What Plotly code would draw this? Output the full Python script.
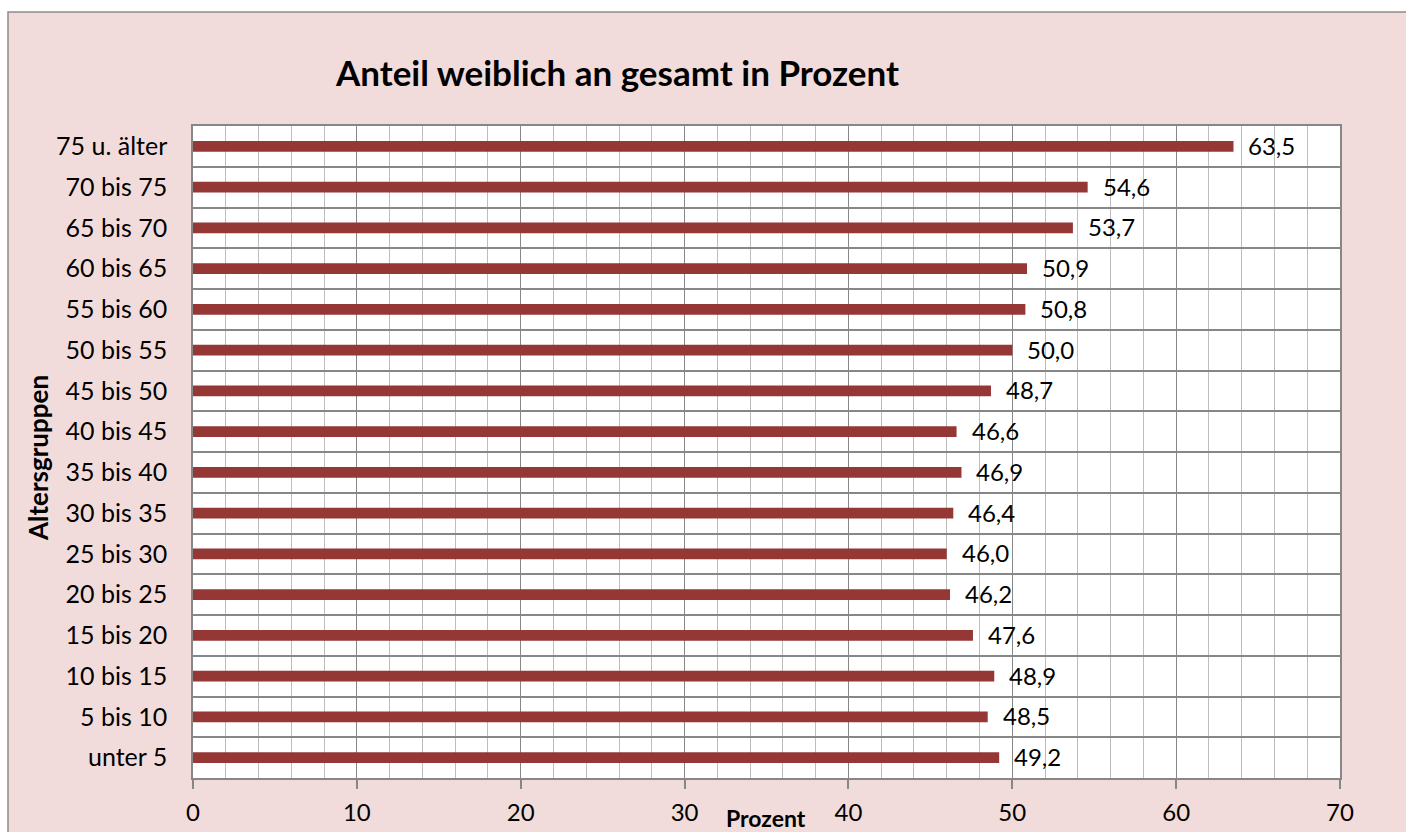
import plotly.graph_objects as go

categories = ["unter 5", "5 bis 10", "10 bis 15", "15 bis 20", "20 bis 25", "25 bis 30",
              "30 bis 35", "35 bis 40", "40 bis 45", "45 bis 50", "50 bis 55", "55 bis 60",
              "60 bis 65", "65 bis 70", "70 bis 75", "75 u. älter"]
values = [49.2, 48.5, 48.9, 47.6, 46.2, 46.0, 46.4, 46.9, 46.6, 48.7, 50.0, 50.8,
          50.9, 53.7, 54.6, 63.5]
x_ticks = [0, 10, 20, 30, 40, 50, 60, 70]

W, H = 1406, 832
L, R, T, B = 193, 1340, 126, 778
pw, ph = R - L, B - T

def fx(px):
    return (px - L) / pw

def fy(py):
    return (B - py) / ph

font = "Lato, Carlito, Calibri, sans-serif"
major = "#878787"
minor = "#BDBDBD"
pink = "#F2DCDB"

fig = go.Figure()
fig.add_trace(go.Bar(
    y=categories, x=values, orientation="h",
    marker=dict(color="#953735", line=dict(width=0)),
    width=0.26, hoverinfo="skip",
))

annotations = []
for c, v in zip(categories, values):
    annotations.append(dict(
        x=v, y=c, xref="x", yref="y", text=f"{v:.1f}".replace(".", ","),
        showarrow=False, xanchor="left", xshift=13, yshift=1,
        font=dict(family=font, size=24, color="#000000"),
    ))

annotations.append(dict(
    x=fx(617), y=fy(72), xref="paper", yref="paper",
    text="<b>Anteil weiblich an gesamt in Prozent</b>", showarrow=False,
    xanchor="center", yanchor="middle",
    font=dict(family=font, size=35, color="#000000"),
))
annotations.append(dict(
    x=fx(766), y=fy(818), xref="paper", yref="paper",
    text="<b>Prozent</b>", showarrow=False, xanchor="center", yanchor="middle",
    font=dict(family=font, size=23, color="#000000"),
))
annotations.append(dict(
    x=fx(38), y=fy(458), xref="paper", yref="paper",
    text="<b>Altersgruppen</b>", showarrow=False, textangle=-90,
    xanchor="center", yanchor="middle",
    font=dict(family=font, size=26, color="#000000"),
))

shapes = [
    dict(type="rect", xref="paper", yref="paper",
         x0=fx(-20), x1=fx(1430), y0=fy(12), y1=fy(-20),
         fillcolor="#FFFFFF", line=dict(width=0), layer="below"),
    dict(type="rect", xref="paper", yref="paper",
         x0=fx(-20), x1=fx(8), y0=fy(860), y1=fy(-20),
         fillcolor="#FFFFFF", line=dict(width=0), layer="below"),
    dict(type="rect", xref="paper", yref="paper",
         x0=fx(8), x1=fx(1430), y0=fy(860), y1=fy(12),
         fillcolor="rgba(0,0,0,0)", line=dict(color="#8C8C8C", width=1.5), layer="below"),
]

fig.update_layout(
    width=W, height=H,
    margin=dict(l=L, r=W - R, t=T, b=H - B, pad=0, autoexpand=False),
    paper_bgcolor=pink,
    plot_bgcolor="#FFFFFF",
    showlegend=False,
    annotations=annotations,
    shapes=shapes,
    xaxis=dict(
        range=[0, 70], tickvals=x_ticks, ticktext=[str(t) for t in x_ticks],
        showgrid=True, gridcolor=major, gridwidth=1,
        minor=dict(dtick=2, showgrid=True, gridcolor=minor, gridwidth=1, ticks=""),
        showline=True, linecolor=major, linewidth=1.5, mirror=True,
        ticks="outside", ticklen=9, tickcolor=major, tickwidth=1.5,
        ticklabelstandoff=3, automargin=False,
        tickfont=dict(family=font, size=24, color="#000000"),
        zeroline=False, fixedrange=True,
    ),
    yaxis=dict(
        type="category", categoryorder="array", categoryarray=categories,
        tickson="boundaries", showgrid=True, gridcolor=major, gridwidth=1.5,
        showline=True, linecolor=major, linewidth=1.5, mirror=True,
        ticks="", ticklabelstandoff=19, automargin=False,
        tickfont=dict(family=font, size=25, color="#000000"),
        range=[-0.5, len(categories) - 0.5], fixedrange=True,
    ),
)

fig.write_html("out.html", config={"displayModeBar": False},
               post_script="document.body.style.margin='0';")
